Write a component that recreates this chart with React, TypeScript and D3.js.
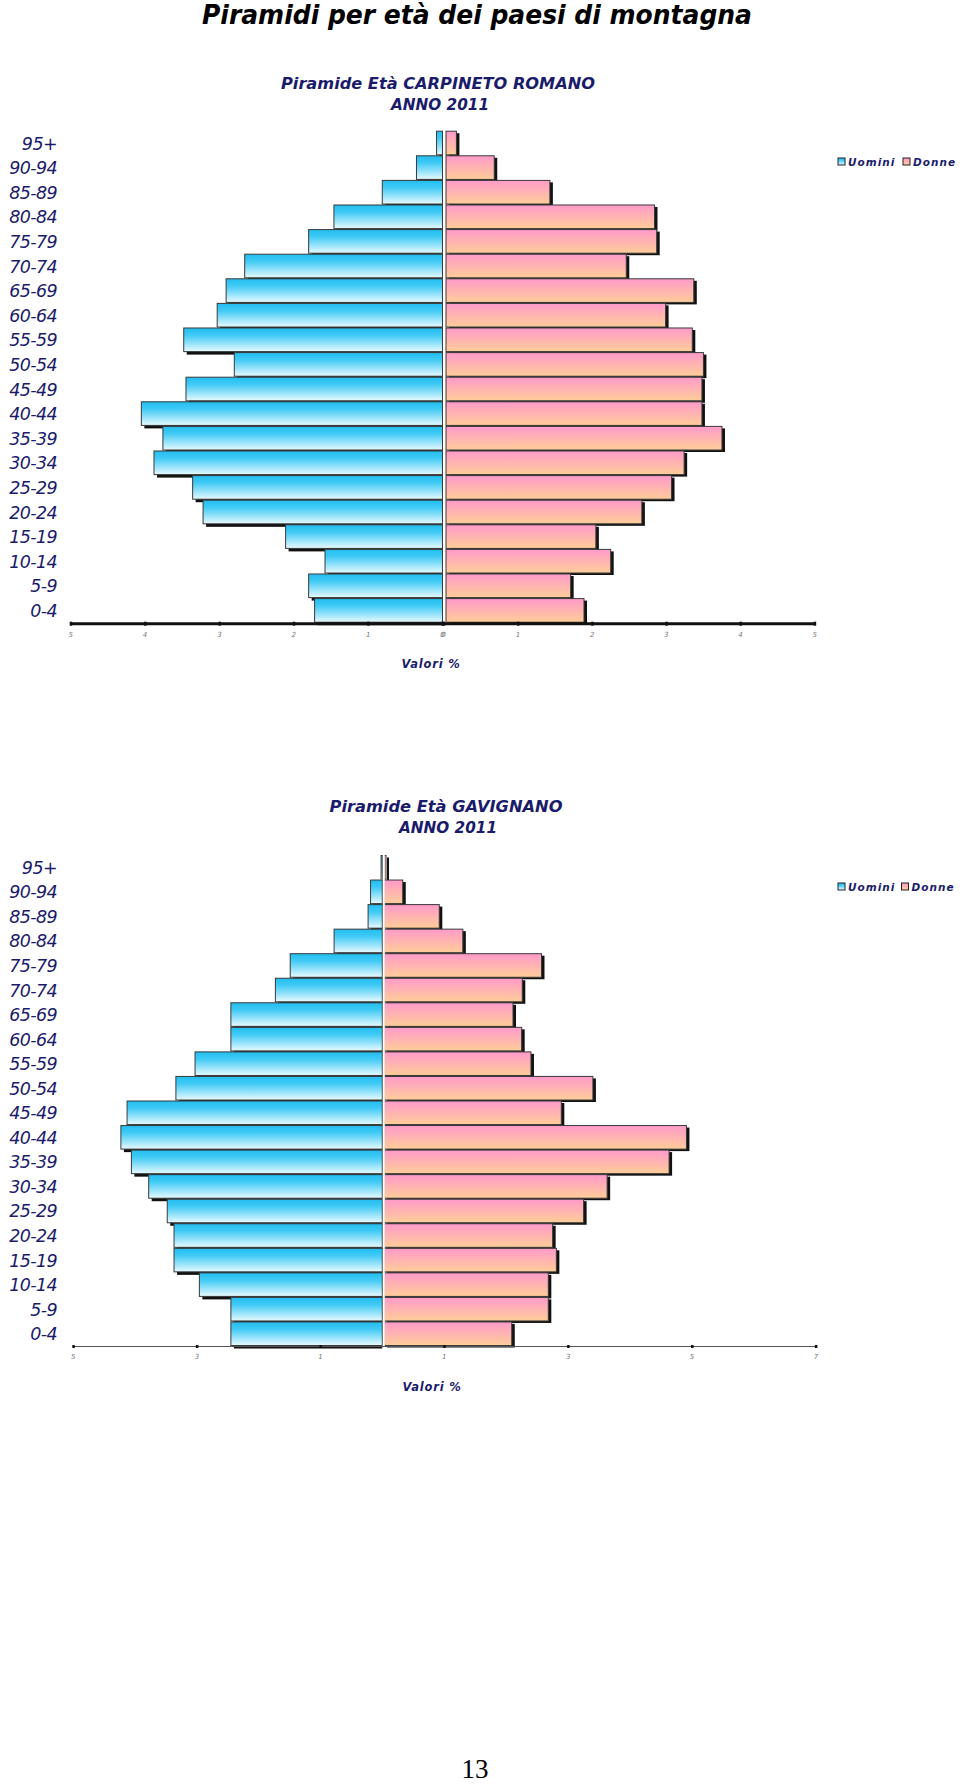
import React from "react";
import * as d3 from "d3";

const ageGroups = ["95+","90-94","85-89","80-84","75-79","70-74","65-69","60-64","55-59","50-54","45-49","40-44","35-39","30-34","25-29","20-24","15-19","10-14","5-9","0-4"];
const carpinetoMen = [0.08,0.35,0.81,1.46,1.80,2.66,2.91,3.03,3.48,2.80,3.45,4.05,3.76,3.88,3.36,3.22,2.11,1.58,1.80,1.72];
const carpinetoWomen = [0.17,0.68,1.43,2.84,2.87,2.46,3.37,2.99,3.35,3.50,3.48,3.48,3.75,3.24,3.07,2.67,2.05,2.25,1.71,1.89];
const gavignanoMen = [0.02,0.19,0.23,0.78,1.49,1.73,2.45,2.45,3.03,3.34,4.13,4.23,4.06,3.78,3.48,3.37,3.37,2.96,2.45,2.45];
const gavignanoWomen = [0.06,0.33,0.92,1.30,2.57,2.26,2.11,2.25,2.40,3.40,2.89,4.91,4.63,3.63,3.25,2.75,2.81,2.68,2.68,2.09];
const carpinetoLeftTicks = [5,4,3,2,1,0];
const carpinetoRightTicks = [0,1,2,3,4,5];
const gavignanoLeftTicks = [5,3,1];
const gavignanoRightTicks = [1,3,5,7];
const mainTitle = "Piramidi per età dei paesi di montagna";
const legendLabels = ["Uomini","Donne"];
const axisTitle = "Valori %";

const NAVY = "#1b1b6b";
const HEAVY = "DejaVu Sans, Verdana, sans-serif";

type PyrProps = {
  id: string;
  title1: string; title1W: number; titleCx: number; titleY: number;
  men: number[]; women: number[];
  top: number; bottom: number;
  leftZero: number; leftMaxX: number; leftMax: number;
  rightZero: number; rightMaxX: number; rightMax: number;
  pinkStart: number;
  leftTicks: number[]; rightTicks: number[];
  axisThick: boolean; axisX0: number; axisX1: number;
  tickLabelY: number; valoriY: number; valoriX: number;
  legendY: number; legendX: number[];
};

function Pyramid(p: PyrProps) {
  const xL = d3.scaleLinear().domain([0, p.leftMax]).range([p.leftZero, p.leftMaxX]);
  const xR = d3.scaleLinear().domain([0, p.rightMax]).range([p.rightZero, p.rightMaxX]);
  const y = d3.scaleBand<string>().domain(ageGroups).range([p.top, p.bottom]).paddingInner(0.04).paddingOuter(0.02);
  const bw = y.bandwidth();
  const axisY = p.bottom;
  return (
    <g>
      <text x={p.titleCx} y={p.titleY} textAnchor="middle" fontFamily={HEAVY} fontWeight="bold" fontStyle="italic" fontSize={16.5} fill={NAVY} textLength={p.title1W} lengthAdjust="spacingAndGlyphs">{p.title1}</text>
      <text x={p.titleCx + 2} y={p.titleY + 21} textAnchor="middle" fontFamily={HEAVY} fontWeight="bold" fontStyle="italic" fontSize={16.5} fill={NAVY} textLength={98} lengthAdjust="spacingAndGlyphs">ANNO 2011</text>
      {/* shadows */}
      {ageGroups.map((a, i) => (
        <rect key={"sl" + a} x={xL(p.men[i]) + 3} y={(y(a) as number) + 3} width={Math.max(0.5, xL(0) - xL(p.men[i]) - 3)} height={bw} fill="#111" />
      ))}
      {ageGroups.map((a, i) => (
        <rect key={"sr" + a} x={p.pinkStart + 3} y={(y(a) as number) + 2} width={Math.max(1, xR(p.women[i]) - p.pinkStart)} height={bw} fill="#111" />
      ))}
      {/* bars */}
      {ageGroups.map((a, i) => (
        <rect key={"bl" + a} x={xL(p.men[i])} y={y(a) as number} width={Math.max(0.8, xL(0) - xL(p.men[i]))} height={bw} fill={`url(#blue-${p.id})`} stroke="#3a3a3a" strokeWidth={1} />
      ))}
      {ageGroups.map((a, i) => (
        <rect key={"br" + a} x={p.pinkStart} y={y(a) as number} width={Math.max(0.8, xR(p.women[i]) - p.pinkStart)} height={bw} fill={`url(#pink-${p.id})`} stroke="#3a3a3a" strokeWidth={1} />
      ))}
      <line x1={xL(0) + 1.5} x2={xL(0) + 1.5} y1={p.top} y2={p.bottom} stroke="#fff" strokeWidth={2} />
      {/* category labels */}
      {ageGroups.map((a) => (
        <text key={"lab" + a} x={57} y={(y(a) as number) + bw / 2 + 6.5} textAnchor="end" fontFamily="DejaVu Sans, Verdana, sans-serif" fontStyle="italic" fontSize={17.5} letterSpacing={-0.6} fill={NAVY}>{a}</text>
      ))}
      {/* axis */}
      <line x1={p.axisX0} x2={p.axisX1} y1={axisY + (p.axisThick ? 1 : 0.5)} y2={axisY + (p.axisThick ? 1 : 0.5)} stroke={p.axisThick ? "#111" : "#555"} strokeWidth={p.axisThick ? 3 : 1} />
      {p.leftTicks.map((t) => (
        <g key={"lt" + t}>
          <rect x={xL(t) - 1} y={axisY - 1} width={2.5} height={p.axisThick ? 4 : 3} fill="#111" />
          <text x={xL(t)} y={p.tickLabelY} textAnchor="middle" fontFamily="DejaVu Sans, sans-serif" fontStyle="italic" fontSize={7} fill="#777">{t}</text>
        </g>
      ))}
      {p.rightTicks.map((t) => (
        <g key={"rt" + t}>
          <rect x={xR(t) - 1} y={axisY - 1} width={2.5} height={p.axisThick ? 4 : 3} fill="#111" />
          <text x={xR(t)} y={p.tickLabelY} textAnchor="middle" fontFamily="DejaVu Sans, sans-serif" fontStyle="italic" fontSize={7} fill="#777">{t}</text>
        </g>
      ))}
      <text x={p.valoriX} y={p.valoriY} textAnchor="middle" fontFamily={HEAVY} fontWeight="bold" fontStyle="italic" fontSize={11.5} letterSpacing={0.8} fill={NAVY}>{axisTitle}</text>
      {/* legend */}
      <rect x={p.legendX[0]} y={p.legendY - 4} width={7} height={7} fill={`url(#blue-${p.id})`} stroke="#222" strokeWidth={1} />
      <text x={p.legendX[0] + 10} y={p.legendY + 4} fontFamily={HEAVY} fontWeight="bold" fontStyle="italic" fontSize={10.5} letterSpacing={1} fill={NAVY}>{legendLabels[0]}</text>
      <rect x={p.legendX[1]} y={p.legendY - 4} width={7} height={7} fill={`url(#pink-${p.id})`} stroke="#222" strokeWidth={1} />
      <text x={p.legendX[1] + 10} y={p.legendY + 4} fontFamily={HEAVY} fontWeight="bold" fontStyle="italic" fontSize={10.5} letterSpacing={1} fill={NAVY}>{legendLabels[1]}</text>
    </g>
  );
}

function Gradients({ id }: { id: string }) {
  return (
    <>
      <linearGradient id={`blue-${id}`} x1="0" y1="0" x2="0" y2="1">
        <stop offset="0" stopColor="#22bdf0" />
        <stop offset="0.3" stopColor="#3fcaf5" />
        <stop offset="1" stopColor="#e8faff" />
      </linearGradient>
      <linearGradient id={`pink-${id}`} x1="0" y1="0" x2="0" y2="1">
        <stop offset="0" stopColor="#ff9acb" />
        <stop offset="1" stopColor="#ffcd98" />
      </linearGradient>
    </>
  );
}

export default function App() {
  return (
    <svg width={960} height={1784} style={{ position: "absolute", left: 0, top: 0, background: "#fff" }}>
      <defs>
        <Gradients id="c1" />
        <Gradients id="c2" />
      </defs>
      <rect x={0} y={0} width={960} height={1784} fill="#fff" />
      <text x={477} y={24} textAnchor="middle" fontFamily={HEAVY} fontWeight="bold" fontStyle="italic" fontSize={26} fill="#000" textLength={550} lengthAdjust="spacingAndGlyphs">{mainTitle}</text>
      <Pyramid id="c1" title1="Piramide Età CARPINETO ROMANO" title1W={314} titleCx={438} titleY={89}
        men={carpinetoMen} women={carpinetoWomen} top={130.7} bottom={622.7}
        leftZero={442.5} leftMaxX={70.7} leftMax={5} rightZero={443.8} rightMaxX={814.7} rightMax={5} pinkStart={446}
        leftTicks={carpinetoLeftTicks} rightTicks={carpinetoRightTicks} axisThick={true} axisX0={70} axisX1={815}
        tickLabelY={637} valoriX={431} valoriY={668} legendY={162} legendX={[838, 903]} />
      <Pyramid id="c2" title1="Piramide Età GAVIGNANO" title1W={233} titleCx={446} titleY={812}
        men={gavignanoMen} women={gavignanoWomen} top={855} bottom={1346}
        leftZero={382.3} leftMaxX={73.3} leftMax={5} rightZero={382.3} rightMaxX={815.9} rightMax={7} pinkStart={384}
        leftTicks={gavignanoLeftTicks} rightTicks={gavignanoRightTicks} axisThick={false} axisX0={73} axisX1={816}
        tickLabelY={1359} valoriX={432} valoriY={1391} legendY={887} legendX={[838, 901.5]} />
      <text x={475} y={1778} textAnchor="middle" fontFamily="Liberation Serif, Times New Roman, serif" fontSize={27} fill="#000">13</text>
    </svg>
  );
}
